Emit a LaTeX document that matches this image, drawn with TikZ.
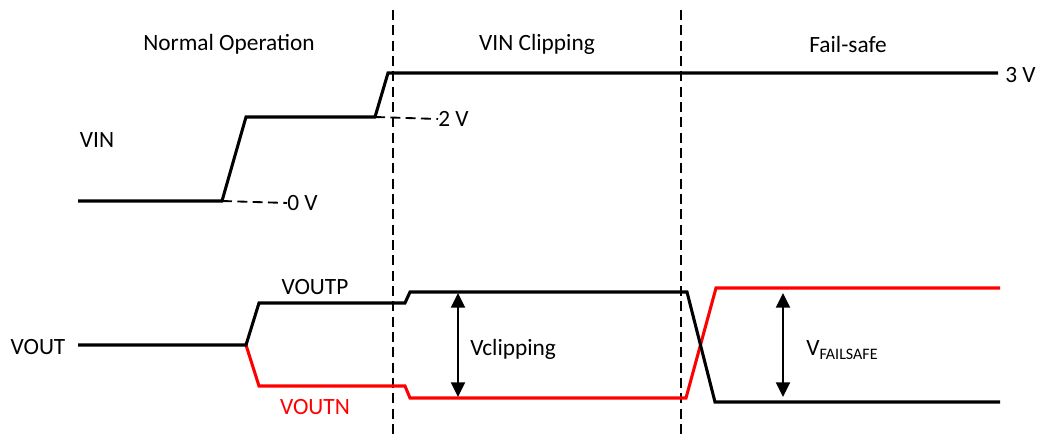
\documentclass[tikz,border=0pt]{standalone}
\usepackage{fontspec}
\setmainfont{Carlito}
\usetikzlibrary{arrows.meta}
\begin{document}
\begin{tikzpicture}[x=0.75pt,y=-0.75pt,
  wave/.style={line width=2.3pt,line join=miter},
  redwave/.style={wave,draw={rgb,255:red,255;green,0;blue,0}},
  guide/.style={line width=1.4pt,dash pattern=on 7.5pt off 4pt},
  meas/.style={line width=1.6pt,{Triangle[length=11pt,width=10.5pt]}-{Triangle[length=11pt,width=10.5pt]}},
  lbl/.style={font=\fontsize{17.5pt}{20pt}\selectfont,inner sep=0pt}]
\useasboundingbox (0,0) rectangle (1040,434);
% phase separators
\coordinate (s1t) at (393,10); \coordinate (s1b) at (393,434);
\coordinate (s2t) at (681,10); \coordinate (s2b) at (681,434);
\draw[guide] (s1t) -- (s1b);
\draw[guide] (s2t) -- (s2b);
% headers
\node[lbl] (h1) at (229,44) {Normal Operation};
\node[lbl] (h2) at (537,44) {VIN Clipping};
\node[lbl] (h3) at (848,44) {Fail-safe};
% VIN waveform
\node[lbl] (vin) at (97,140) {VIN};
\coordinate (a0) at (78,201); \coordinate (a1) at (222,201);
\coordinate (a2) at (246,117); \coordinate (a3) at (375,117);
\coordinate (a4) at (388,73); \coordinate (a5) at (998,73);
\draw[wave] (a0) -- (a1) -- (a2) -- (a3) -- (a4) -- (a5);
\node[lbl,anchor=west] (v3) at (1005,75) {3 V};
\node[lbl,anchor=west] (v0) at (287,203) {0 V};
\node[lbl,anchor=west] (v2) at (438,119) {2 V};
\draw[guide] (a1) -- (v0.west);
\draw[guide] (a3) -- (v2.west);
% VOUT waveforms
\node[lbl] (vout) at (38,347) {VOUT};
\coordinate (b0) at (78,345); \coordinate (b1) at (246,345);
\coordinate (p1) at (259,303); \coordinate (p2) at (405,303);
\coordinate (p3) at (410,292); \coordinate (p4) at (687,292);
\coordinate (p5) at (715,402); \coordinate (p6) at (1000,402);
\coordinate (n1) at (259,386); \coordinate (n2) at (405,386);
\coordinate (n3) at (410,398); \coordinate (n4) at (686,398);
\coordinate (n5) at (716,288); \coordinate (n6) at (1000,288);
\draw[redwave] (b1) -- (n1) -- (n2) -- (n3) -- (n4) -- (n5) -- (n6);
\draw[wave] (b0) -- (b1) -- (p1) -- (p2) -- (p3) -- (p4) -- (p5) -- (p6);
\node[lbl] (voutp) at (315,287) {VOUTP};
\node[lbl,text={rgb,255:red,255;green,0;blue,0}] (voutn) at (315,407) {VOUTN};
% measurements
\coordinate (c1) at (458,293); \coordinate (c2) at (458,397);
\draw[meas] (c1) -- (c2);
\node[lbl,anchor=west] (vclip) at (470,349) {Vclipping};
\coordinate (f1) at (783,293); \coordinate (f2) at (783,397);
\draw[meas] (f1) -- (f2);
\node[lbl,anchor=west] (vfs) at (806,350) {V\raisebox{-0.35ex}{\fontsize{12pt}{14pt}\selectfont FAILSAFE}};
\end{tikzpicture}
\end{document}
